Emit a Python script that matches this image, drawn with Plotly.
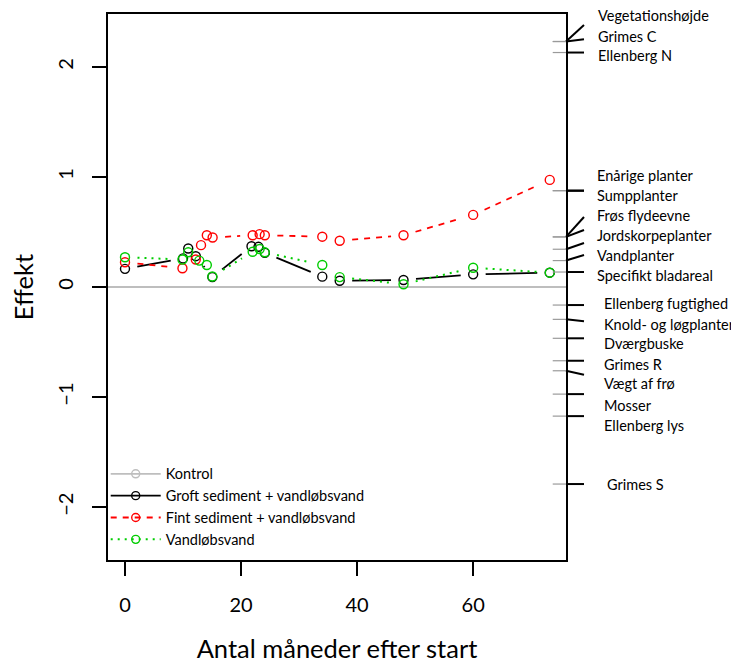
import math
import plotly.graph_objects as go

# ---------------- data ----------------
months_groft = [0, 10, 10.9, 12.2, 15.05, 21.8, 23, 24.1, 34, 37, 48, 60, 73.2]
effekt_groft = [0.165, 0.26, 0.35, 0.28, 0.09, 0.37, 0.365, 0.31, 0.094, 0.057, 0.064, 0.115, 0.13]

months_fint = [0, 9.9, 12.2, 13.1, 14.1, 15.1, 22, 23.2, 24.1, 34, 37, 48, 60, 73.2]
effekt_fint = [0.225, 0.17, 0.25, 0.38, 0.47, 0.45, 0.47, 0.48, 0.47, 0.457, 0.42, 0.47, 0.655, 0.973]

months_vand = [0, 9.9, 10.9, 12.8, 14.1, 15.05, 22, 23.2, 24.1, 34, 37, 48, 60, 73.2]
effekt_vand = [0.27, 0.25, 0.315, 0.24, 0.20, 0.095, 0.32, 0.345, 0.315, 0.2, 0.09, 0.025, 0.175, 0.13]

kontrol_value = 0.0

series_names = ["Kontrol", "Groft sediment + vandløbsvand",
                "Fint sediment + vandløbsvand", "Vandløbsvand"]

x_ticks = [0, 20, 40, 60]
y_ticks = [-2, -1, 0, 1, 2]

# trait labels on the right-hand side
trait_labels = ["Vegetationshøjde", "Grimes C", "Ellenberg N", "Enårige planter",
                "Sumpplanter", "Frøs flydeevne", "Jordskorpeplanter", "Vandplanter",
                "Specifikt bladareal", "Ellenberg fugtighed", "Knold- og løgplanter",
                "Dværgbuske", "Grimes R", "Vægt af frø", "Mosser", "Ellenberg lys",
                "Grimes S"]
# trait effect values (tick positions on the right axis)
trait_tick_values = [2.23, 2.23, 2.13, 0.875, 0.875, 0.455, 0.455, 0.343, 0.24, 0.136,
                     -0.164, -0.294, -0.466, -0.67, -0.761, -0.973, -1.173, -1.79]

# ---------------- layout constants (positions) ----------------
# the page body adds an 8px offset, so margins are shifted by 8px
W, H = 739, 655
ML, MT = 100, 6
PW, PH = 458, 546
MR, MB = W - ML - PW, H - MT - PH
X_RANGE = [-2.93, 76.0]
Y_RANGE = [-2.48, 2.48]
SX = PW / (X_RANGE[1] - X_RANGE[0])
SY = PH / (Y_RANGE[1] - Y_RANGE[0])
GAP = 12.5  # px gap around points (type="b" style)

# where the outer tick stubs end (spread towards labels)
tick_end_y = [2.38, 2.25, 2.13, 0.875, 0.875, 0.636, 0.518, 0.40, 0.29, 0.136,
              -0.164, -0.312, -0.466, -0.67, -0.797, -0.973, -1.173, -1.79]
label_y = [2.468, 2.280, 2.103, 1.015, 0.833, 0.651, 0.470, 0.288, 0.106,
           -0.154, -0.339, -0.515, -0.702, -0.879, -1.072, -1.254, -1.792]
label_x = [1.066, 1.066, 1.066, 1.063, 1.063, 1.063, 1.063, 1.063, 1.063,
           1.078, 1.078, 1.078, 1.078, 1.078, 1.078, 1.078, 1.085]

FONT = "Lato"


def gapped(xs, ys, gap=GAP):
    ox, oy = [], []
    for i in range(len(xs) - 1):
        dx = (xs[i + 1] - xs[i]) * SX
        dy = (ys[i + 1] - ys[i]) * SY
        d = math.hypot(dx, dy)
        if d > 2 * gap:
            f = gap / d
            ox += [xs[i] + (xs[i + 1] - xs[i]) * f, xs[i + 1] - (xs[i + 1] - xs[i]) * f, None]
            oy += [ys[i] + (ys[i + 1] - ys[i]) * f, ys[i + 1] - (ys[i + 1] - ys[i]) * f, None]
    return ox, oy


fig = go.Figure()

styles = [
    dict(color="#BEBEBE", dash="solid", width=1.8),
    dict(color="black", dash="solid", width=1.8),
    dict(color="#FF0000", dash="6px,6px", width=1.8),
    dict(color="#00CD00", dash="2px,5px", width=2.0),
]
data = [None, (months_groft, effekt_groft), (months_fint, effekt_fint), (months_vand, effekt_vand)]

fig.add_shape(type="line", xref="paper", x0=0, x1=1, yref="y",
              y0=kontrol_value, y1=kontrol_value,
              line=dict(color="#BEBEBE", width=1.8), layer="below")

for name, st, d in zip(series_names, styles, data):
    if d is not None:
        xs, ys = d
        gx, gy = gapped(xs, ys)
        fig.add_trace(go.Scatter(x=gx, y=gy, mode="lines", showlegend=False, hoverinfo="skip",
                                 line=dict(color=st["color"], dash=st["dash"], width=st["width"])))
        fig.add_trace(go.Scatter(x=xs, y=ys, mode="markers", showlegend=False,
                                 marker=dict(symbol="circle-open", size=9, color=st["color"],
                                             line=dict(width=1.4, color=st["color"]))))
    fig.add_trace(go.Scatter(x=[None], y=[None], mode="lines+markers", name=name,
                             line=dict(color=st["color"], dash=st["dash"], width=st["width"]),
                             marker=dict(symbol="circle-open", size=8, color=st["color"],
                                         line=dict(width=1.4, color=st["color"]))))

# right-hand trait ticks
for v, e in zip(trait_tick_values, tick_end_y):
    fig.add_shape(type="line", xref="paper", yref="y", x0=0.971, x1=1.0, y0=v, y1=v,
                  line=dict(color="#9A9A9A", width=1.2), layer="above")
    fig.add_shape(type="line", xref="paper", yref="y", x0=1.0, x1=1.0393, y0=v, y1=e,
                  line=dict(color="black", width=2), layer="above")

for lab, ly, lx in zip(trait_labels, label_y, label_x):
    fig.add_annotation(text=lab, xref="paper", yref="y", x=lx, y=ly, showarrow=False,
                       xanchor="left", yanchor="middle",
                       font=dict(family=FONT, size=14.5, color="black"))

axis_common = dict(showgrid=False, zeroline=False, showline=True, mirror=True,
                   linecolor="black", linewidth=2.3, ticks="outside", ticklen=14,
                   tickwidth=2, tickcolor="black", automargin=False,
                   tickfont=dict(family=FONT, size=20, color="black"))

fig.update_layout(
    width=W, height=H,
    margin=dict(l=ML, r=MR, t=MT, b=MB),
    paper_bgcolor="white", plot_bgcolor="white",
    xaxis=dict(range=X_RANGE, tickvals=x_ticks, ticklabelstandoff=12,
               title=dict(text="Antal måneder efter start", standoff=36,
                          font=dict(family=FONT, size=25.5, color="black")),
               **axis_common),
    yaxis=dict(range=Y_RANGE, tickvals=y_ticks, tickangle=-90, ticklabelstandoff=11,
               title=dict(text="Effekt", standoff=15,
                          font=dict(family=FONT, size=25.5, color="black")),
               **axis_common),
    legend=dict(x=-0.005, y=0.187, xanchor="left", yanchor="top", bgcolor="rgba(0,0,0,0)",
                borderwidth=0, itemwidth=50,
                font=dict(family=FONT, size=14.5, color="black")),
    showlegend=True,
)

fig.write_html("out.html")
